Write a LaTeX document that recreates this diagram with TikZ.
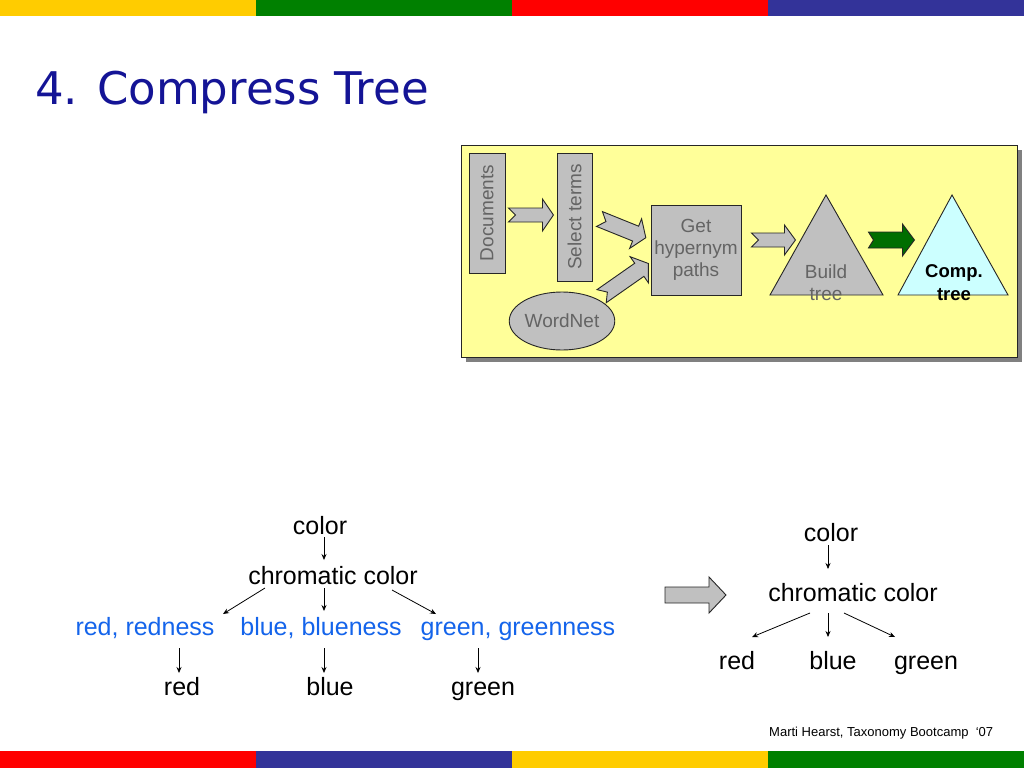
\documentclass[tikz,border=0pt]{standalone}
\usepackage{fontspec}
\setmainfont{Liberation Sans}
\newfontfamily\titlefont{DejaVu Sans}
\usetikzlibrary{calc,arrows.meta,shapes.geometric}
\definecolor{barY}{RGB}{255,204,0}
\definecolor{barG}{RGB}{0,128,0}
\definecolor{barR}{RGB}{255,0,0}
\definecolor{barB}{RGB}{51,51,153}
\definecolor{titleblue}{RGB}{20,20,150}
\definecolor{pale}{RGB}{255,255,153}
\definecolor{boxgray}{RGB}{192,192,192}
\definecolor{txtgray}{RGB}{100,100,100}
\definecolor{compcyan}{RGB}{204,255,255}
\definecolor{darkgreen}{RGB}{0,110,0}
\definecolor{termblue}{RGB}{20,100,235}
\newcommand\blkarrow[8]{% start, angle, length, bodyhalf, headhalf, headlen, notch, fill
  \begin{scope}[shift={#1}, rotate=#2]
    \filldraw[fill=#8, draw=black!85, line width=0.9pt, line join=miter]
      (0,-#4) -- ({#3-#6},-#4) -- ({#3-#6},-#5) -- (#3,0) -- ({#3-#6},#5)
      -- ({#3-#6},#4) -- (0,#4) -- (#7,0) -- cycle;
  \end{scope}}
\tikzset{
  word/.style={font=\fontsize{25}{30}\selectfont, inner sep=0pt, anchor=base},
  term/.style={word, text=termblue},
  thin/.style={-{Stealth[length=6pt,width=5pt]}, line width=0.8pt, black},
  procbox/.style={draw=black!85, line width=0.9pt, fill=boxgray, text=txtgray, font=\fontsize{19}{23}\selectfont, inner sep=0pt, align=center},
}
\begin{document}
\begin{tikzpicture}[x=1pt,y=-1pt]
\useasboundingbox (0,0) rectangle (1024,768);
\fill[white] (0,0) rectangle (1024,768);
% colour bars
\fill[barY] (0,0) rectangle (256,16);
\fill[barG] (256,0) rectangle (512,16);
\fill[barR] (512,0) rectangle (768,16);
\fill[barB] (768,0) rectangle (1024,16);
\fill[barR] (0,751) rectangle (256,768);
\fill[barB] (256,751) rectangle (512,768);
\fill[barY] (512,751) rectangle (768,768);
\fill[barG] (768,751) rectangle (1024,768);
% title
\node[anchor=base west, inner sep=0pt, text=titleblue, font=\titlefont\fontsize{45}{50}\selectfont] (title) at (35,104) {4. Compress Tree};
% process diagram
\fill[black!50] (466,150) rectangle (1022,362);
\filldraw[fill=pale, draw=black!85, line width=0.9pt] (461,145) rectangle (1017,357);
\node[procbox, minimum width=36pt, minimum height=120pt] (docs) at (487,213) {};
\node[rotate=90, text=txtgray, font=\fontsize{19}{23}\selectfont, inner sep=0pt] (docst) at (docs.center) {Documents};
\node[procbox, minimum width=35pt, minimum height=128pt] (sel) at (574.5,217) {};
\node[rotate=90, text=txtgray, font=\fontsize{19}{23}\selectfont, inner sep=0pt] (selt) at (sel.center) {Select terms};
\node[procbox, minimum width=90pt, minimum height=90pt] (get) at (696,250) {Get\\[-1pt]hypernym\\[-1pt]paths};
\node[procbox, ellipse, minimum width=100pt, minimum height=58pt] (wn) at (562,321) {WordNet};
\filldraw[fill=boxgray, draw=black!85, line width=0.9pt] (826,195) -- (883,295) -- (770,295) -- cycle;
\node[text=txtgray, font=\fontsize{19}{23}\selectfont, inner sep=0pt, align=center] (build) at (826,283) {Build\\[-1pt]tree};
\filldraw[fill=compcyan, draw=black!85, line width=0.9pt] (952,195) -- (1008,295) -- (898,295) -- cycle;
\node[text=black, font=\bfseries\fontsize{18.5}{23}\selectfont, inner sep=0pt, align=center] (comp) at (954,283) {Comp.\\tree};
% block arrows
\blkarrow{($(docs.east)+(3,2)$)}{0}{45}{7}{16}{11}{7}{boxgray}
\blkarrow{($(sel.east)+(7,2)$)}{-22}{50}{8}{16}{11}{7}{boxgray}
\blkarrow{($(wn.north east)+(2,-4)$)}{35}{57}{8}{16}{11}{7}{boxgray}
\blkarrow{($(get.east)+(10,-10)$)}{0}{44}{7}{15}{11}{7}{boxgray}
\blkarrow{($(get.east)+(127,-10)$)}{0}{46}{8}{16}{12}{5}{darkgreen}
% left tree
\node[word] (c1) at (320,534) {color};
\node[word] (cc1) at (333,584) {chromatic color};
\node[term] (rr1) at (145,635) {red, redness};
\node[term] (bb1) at (321,635) {blue, blueness};
\node[term] (gg1) at (518,635) {green, greenness};
\node[word] (r1) at (182,695) {red};
\node[word] (b1) at (330,695) {blue};
\node[word] (g1) at (483,695) {green};
\draw[thin] ($(c1.base)+(4,3)$) -- ($(cc1.base)+(-9,-24)$);
\draw[thin] ($(cc1.base)+(-68,4)$) -- ($(rr1.base)+(78,-21)$);
\draw[thin] ($(cc1.base)+(-9,4)$) -- ($(bb1.base)+(3,-24)$);
\draw[thin] ($(cc1.base)+(59,6)$) -- ($(gg1.base)+(-82,-21)$);
\draw[thin] ($(rr1.base)+(34,13)$) -- ($(r1.base)+(-3,-22)$);
\draw[thin] ($(bb1.base)+(3,13)$) -- ($(b1.base)+(-6,-22)$);
\draw[thin] ($(gg1.base)+(-40,13)$) -- ($(g1.base)+(-5,-22)$);
% big arrow
\node[inner sep=0pt] (bigA) at (665,595) {};
\blkarrow{(bigA)}{0}{61}{8}{18}{17}{0}{boxgray}
% right tree
\node[word] (c2) at (831,541) {color};
\node[word] (cc2) at (853,601) {chromatic color};
\node[word] (r2) at (737,669) {red};
\node[word] (b2) at (833,669) {blue};
\node[word] (g2) at (926,669) {green};
\draw[thin] ($(c2.base)+(-3,4)$) -- ($(cc2.base)+(-25,-32)$);
\draw[thin] ($(cc2.base)+(-43,12)$) -- ($(r2.base)+(15,-32)$);
\draw[thin] ($(cc2.base)+(-25,12)$) -- ($(b2.base)+(-5,-32)$);
\draw[thin] ($(cc2.base)+(-9,12)$) -- ($(g2.base)+(-31,-32)$);
% footer
\node[anchor=base west, inner sep=0pt, font=\fontsize{13}{15}\selectfont] (foot) at (769,736) {Marti Hearst, Taxonomy Bootcamp\ \ `07};
\end{tikzpicture}
\end{document}
